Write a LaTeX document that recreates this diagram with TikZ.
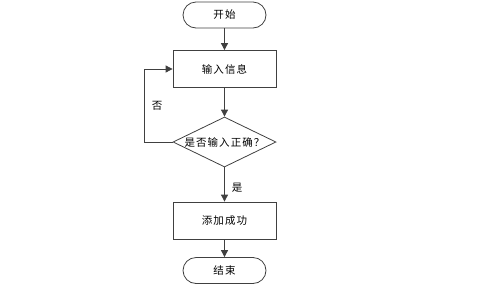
\documentclass[tikz,border=0pt]{standalone}
\usepackage{fontspec}
\newfontfamily\cjk[LetterSpace=10]{Noto Sans CJK SC}
\usetikzlibrary{shapes.geometric,arrows.meta}
\definecolor{ln}{HTML}{404040}
\begin{document}
\begin{tikzpicture}[x=1pt,y=-1pt,
  every node/.style={font=\cjk\fontsize{10.5}{12}\selectfont,text=black},
  term/.style={draw=ln,line width=0.8pt,rounded corners=13pt,minimum width=83pt,minimum height=26pt,inner sep=0pt},
  proc/.style={draw=ln,line width=0.8pt,minimum width=103pt,minimum height=37pt,inner sep=0pt},
  dec/.style={draw=ln,line width=0.8pt,diamond,aspect=2.06,minimum width=103pt,minimum height=50pt,inner sep=0pt},
  conn/.style={draw=ln,line width=0.8pt,-{Triangle[length=7pt,width=7pt]}},
  lab/.style={inner sep=0pt}]
\useasboundingbox (0,0) rectangle (503,290);
\node[term] (start) at (224.5,15) {开始};
\node[proc] (input) at (224.5,69) {输入信息};
\node[dec] (check) at (224.5,142) {是否输入正确？};
\node[proc] (add) at (224.5,220.5) {添加成功};
\node[term] (end) at (224.5,270.5) {结束};
\coordinate (lb) at (144,142);
\coordinate (lt) at (144,69);
\draw[conn] (start) -- (input);
\draw[conn] (input) -- (check);
\draw[conn] (check) -- (add);
\draw[conn] (add) -- (end);
\draw[conn] (check.west) -- (lb) -- (lt) -- (input.west);
\node[lab] (no) at (157,106) {否};
\node[lab] (yes) at (237,188) {是};
\end{tikzpicture}
\end{document}
